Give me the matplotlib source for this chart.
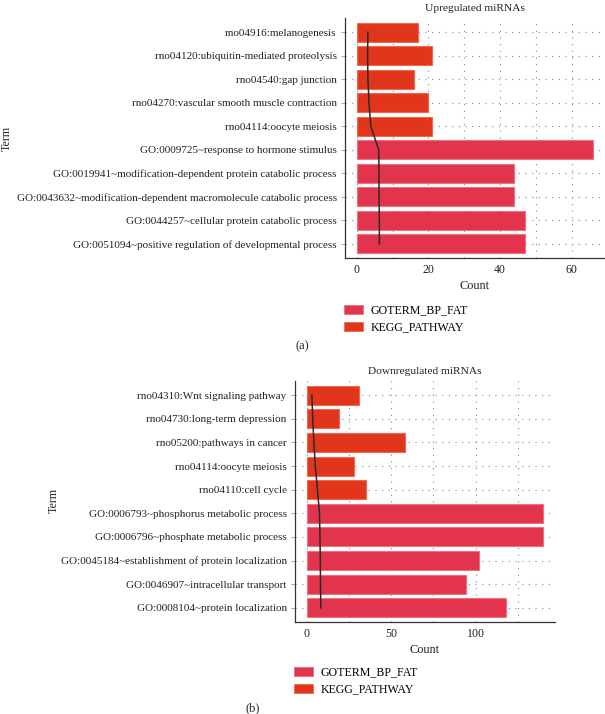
import matplotlib
matplotlib.use("Agg")
import matplotlib.pyplot as plt
from matplotlib.patches import Patch
import numpy as np

plt.rcParams['font.family'] = ['Liberation Serif', 'DejaVu Serif']

# ---------------- data ----------------
up_terms = [
    "rno04916:melanogenesis",
    "rno04120:ubiquitin-mediated proteolysis",
    "rno04540:gap junction",
    "rno04270:vascular smooth muscle contraction",
    "rno04114:oocyte meiosis",
    "GO:0009725~response to hormone stimulus",
    "GO:0019941~modification-dependent protein catabolic process",
    "GO:0043632~modification-dependent macromolecule catabolic process",
    "GO:0044257~cellular protein catabolic process",
    "GO:0051094~positive regulation of developmental process",
]
up_counts = [17, 21, 16, 20, 21, 66, 44, 44, 47, 47]
up_category = ["KEGG_PATHWAY"] * 5 + ["GOTERM_BP_FAT"] * 5
up_line = [3.1, 3.0, 3.1, 3.4, 3.9, 6.1, 6.2, 6.2, 6.3, 6.3]

down_terms = [
    "rno04310:Wnt signaling pathway",
    "rno04730:long-term depression",
    "rno05200:pathways in cancer",
    "rno04114:oocyte meiosis",
    "rno04110:cell cycle",
    "GO:0006793~phosphorus metabolic process",
    "GO:0006796~phosphate metabolic process",
    "GO:0045184~establishment of protein localization",
    "GO:0046907~intracellular transport",
    "GO:0008104~protein localization",
]
down_counts = [31, 19, 58, 28, 35, 140, 140, 102, 94, 118]
down_category = ["KEGG_PATHWAY"] * 5 + ["GOTERM_BP_FAT"] * 5
down_line = [3.0, 3.5, 4.2, 5.0, 6.3, 7.5, 7.8, 8.0, 8.1, 8.3]

up_xticks = [0, 20, 40, 60]
down_xticks = [0, 50, 100]
legend_labels = ["GOTERM_BP_FAT", "KEGG_PATHWAY"]
colors = {"GOTERM_BP_FAT": "#E2354D", "KEGG_PATHWAY": "#E2361C"}
edge_colors = {"GOTERM_BP_FAT": "#F07080", "KEGG_PATHWAY": "#F06850"}

W, H = 605, 714
fig = plt.figure(figsize=(W / 100, H / 100), dpi=100)
TXT = "#222222"


def frac(left, top, right, bottom):
    return [left / W, 1 - bottom / H, (right - left) / W, (bottom - top) / H]


def panel(rect, terms, counts, cats, line, xticks, minor_step, title, letter,
          legend_top, letter_y, term_xy):
    ax = fig.add_axes(rect)
    y = np.arange(len(terms))
    cols = [colors[c] for c in cats]
    ecs = [edge_colors[c] for c in cats]
    ax.barh(y, counts, height=0.8, color=cols, edgecolor=ecs, linewidth=0.8,
            zorder=2)
    ax.plot(line, y, color="#2a2a2a", lw=1.1, zorder=3)
    ax.set_yticks(y)
    ax.set_yticklabels(terms, fontsize=8.0, color=TXT)
    ax.set_ylim(len(terms) - 0.4, -0.6)
    mx = max(counts)
    ax.set_xlim(-0.05 * mx, mx * 1.05)
    ax.set_xticks(xticks)
    ax.set_xticks(np.arange(minor_step, mx * 1.05, minor_step * 2), minor=True)
    ax.tick_params(axis='x', labelsize=8.6, length=0, pad=4, colors=TXT)
    ax.tick_params(axis='x', which='minor', length=0)
    ax.tick_params(axis='y', length=3, width=0.6, color="#999999", pad=3)
    ax.grid(True, which='both', axis='x', color="#888888", lw=0.8,
            linestyle=(0, (1, 5)), zorder=0)
    ax.grid(True, which='major', axis='y', color="#888888", lw=0.8,
            linestyle=(0, (1, 5)), zorder=0)
    for s in ["top", "right"]:
        ax.spines[s].set_visible(False)
    for s in ["left", "bottom"]:
        ax.spines[s].set_color("#333333")
        ax.spines[s].set_linewidth(0.9)
    ax.set_title(title, fontsize=8.2, pad=5, color=TXT)
    ax.set_xlabel("Count", fontsize=8.8, color=TXT, labelpad=3)
    fig.text(term_xy[0] / W, 1 - term_xy[1] / H, "Term", rotation=90,
             fontsize=8.6, ha="center", va="center", color=TXT)
    handles = [Patch(facecolor=colors[c], edgecolor=edge_colors[c], lw=0.6)
               for c in legend_labels]
    pos = ax.get_position()
    fig.legend(handles, legend_labels, loc="upper left",
               bbox_to_anchor=(pos.x0 - 0.007, 1 - legend_top / H),
               frameon=False, fontsize=8.6, handlelength=1.6, handleheight=0.75,
               labelspacing=0.4, handletextpad=0.6, borderaxespad=0,
               borderpad=0.3)
    fig.text(pos.x0 - 0.07, 1 - letter_y / H, letter, fontsize=9,
             ha="center", va="center", color=TXT)
    return ax


ax1 = panel(frac(345, 18, 605, 258), up_terms, up_counts, up_category, up_line,
            up_xticks, 10, "Upregulated miRNAs", "(a)", 301, 346, (7, 138))

ax2 = panel(frac(295, 381, 555, 622), down_terms, down_counts, down_category,
            down_line, down_xticks, 25, "Downregulated miRNAs", "(b)", 663, 708,
            (54, 500))

fig.savefig("out.png", dpi=100)
